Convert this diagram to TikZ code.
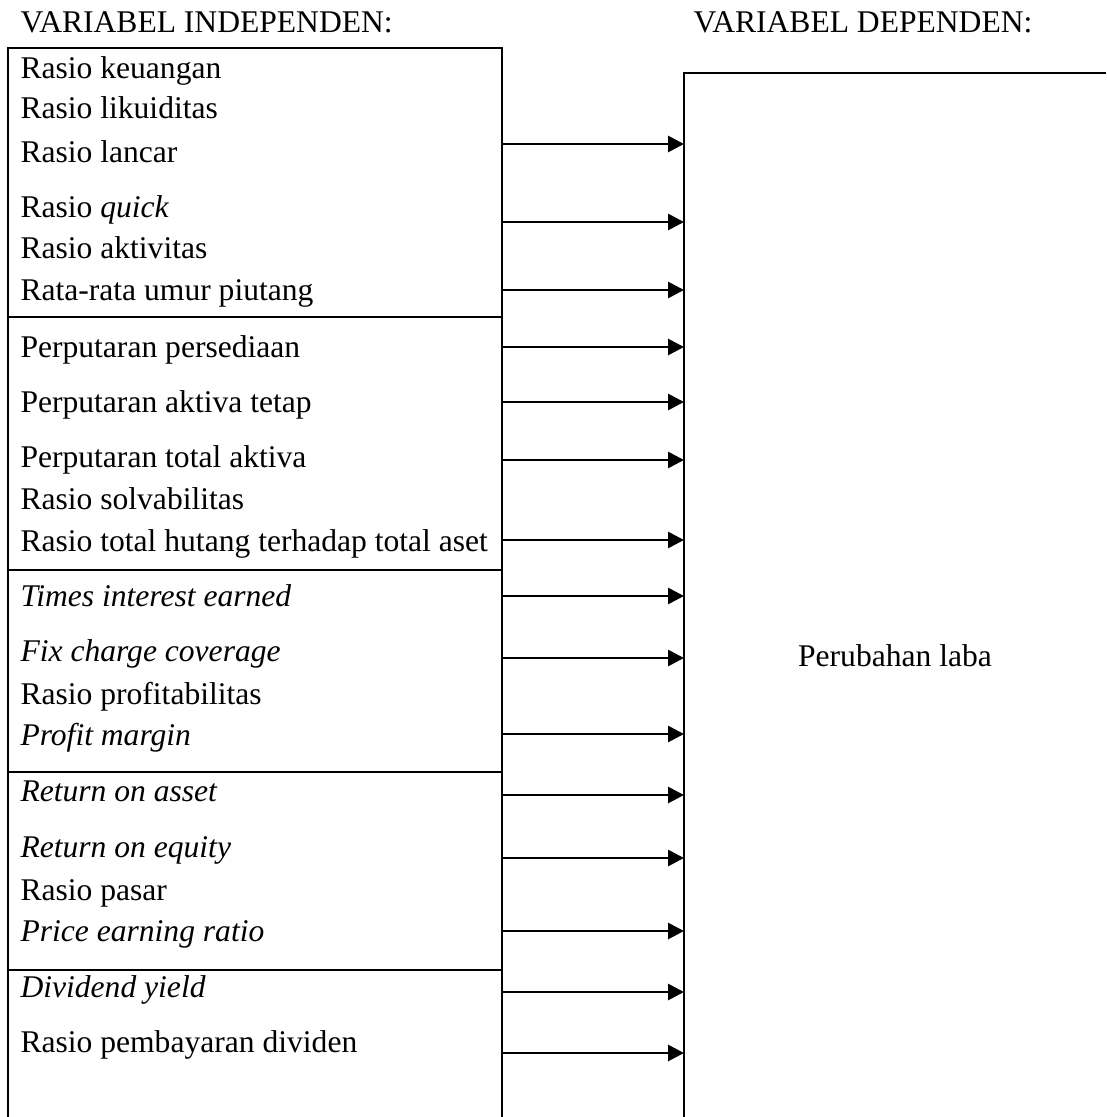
\documentclass[tikz,border=0pt]{standalone}
\usepackage{fontspec}
\setmainfont{Liberation Serif}
\usetikzlibrary{arrows.meta}

\begin{document}
\fontsize{12pt}{14pt}\selectfont
\begin{tikzpicture}[x=0.38pt,y=-0.38pt,
    item/.style={anchor=base west,inner sep=0pt},
    frame/.style={black,line width=0.75pt},
    arr/.style={black,line width=1.05pt,-{Triangle[length=6pt,width=6pt]}}]
        \useasboundingbox (0,0) rectangle (1106,1117);
        \node [item] (tind) at (20,33) {VARIABEL INDEPENDEN:};
        \node [item] (tdep) at (693,33) {VARIABEL DEPENDEN:};
        \draw [frame] (8,1117) -- (8,48) -- (502,48) -- (502,1117);
        \foreach \y in {317,570,772,970}
            \draw [frame] (8,\y) -- (502,\y);
        \draw [frame] (684,1117) -- (684,73) -- (1106,73);
        \coordinate (dep) at (684,73);
        \node [anchor=base,inner sep=0pt] (laba) at (895,666) {Perubahan laba};
        \node [item] (r1) at (20,78) {Rasio keuangan};
        \node [item] (r2) at (20,118) {Rasio likuiditas};
        \node [item] (r3) at (20,162) {Rasio lancar};
        \node [item] (r4) at (20,217) {Rasio \textit{quick}};
        \node [item] (r5) at (20,258) {Rasio aktivitas};
        \node [item] (r6) at (20,300) {Rata-rata umur piutang};
        \node [item] (r7) at (20,357) {Perputaran persediaan};
        \node [item] (r8) at (20,412) {Perputaran aktiva tetap};
        \node [item] (r9) at (20,467) {Perputaran total aktiva};
        \node [item] (r10) at (20,509) {Rasio solvabilitas};
        \node [item] (r11) at (20,551) {Rasio total hutang terhadap total aset};
        \node [item] (r12) at (20,606) {\textit{Times interest earned}};
        \node [item] (r13) at (20,661) {\textit{Fix charge coverage}};
        \node [item] (r14) at (20,704) {Rasio profitabilitas};
        \node [item] (r15) at (20,745) {\textit{Profit margin}};
        \node [item] (r16) at (20,801) {\textit{Return on asset}};
        \node [item] (r17) at (20,857) {\textit{Return on equity}};
        \node [item] (r18) at (20,900) {Rasio pasar};
        \node [item] (r19) at (20,941) {\textit{Price earning ratio}};
        \node [item] (r20) at (20,997) {\textit{Dividend yield}};
        \node [item] (r21) at (20,1052) {Rasio pembayaran dividen};
        \foreach \y [count=\i] in {144,222,290,347,402,460,540,596,658,734,795,858,931,992,1053} {
            \coordinate (s\i) at (502,\y);
            \draw [arr] (s\i) -- (s\i -| dep);
        }
    \end{tikzpicture}
\end{document}
